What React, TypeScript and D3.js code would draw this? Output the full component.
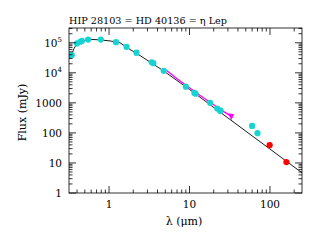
import React from "react";
import * as d3 from "d3";

// photometry (cyan)
const photLam = [0.344, 0.40, 0.44, 0.46, 0.55, 0.79, 1.22, 1.65, 2.19, 3.39, 3.55, 4.78, 9.0, 11.5, 11.9, 18, 22.1, 23.9, 24.3, 60, 70];
const photFlux = [38500, 95000, 108000, 115000, 128000, 128000, 105000, 73000, 47000, 22500, 21000, 11600, 3450, 2140, 2010, 1000, 650, 560, 540, 171, 98];
const photErr = [0, 0, 0, 0, 0, 0, 13000, 9000, 8000, 0, 0, 0, 0, 0, 0, 0, 0, 0, 0, 25, 0];

// far-IR photometry (red)
const redLam = [99, 160];
const redFlux = [39, 10.7];

// spectrum (magenta)
const specLam = [5.2, 7, 10, 14, 20, 27, 34];
const specFlux = [11900, 6300, 3200, 1650, 870, 500, 335];

// model (black)
const modelLam = [0.318, 0.347, 0.367, 0.40, 0.46, 0.58, 0.77, 1.03, 1.37, 1.82, 2.43, 3.23, 4.69, 10, 30, 100, 250];
const modelFlux = [31000, 44000, 64000, 95000, 115000, 130000, 125000, 115000, 100000, 60000, 37600, 22800, 11900, 2800, 315, 29, 4.7];

const xTicks = [1, 10, 100];
const yTicks = [1, 10, 100, 1000, 1e4, 1e5];

const W = 319, H = 242;
const L = 69, R = 302, T = 28, B = 193;

export default function App() {
  const x = d3.scaleLog().domain([0.318, 250]).range([L, R]);
  const y = d3.scaleLog().domain([1, 3.1e5]).range([B, T]);
  const line = d3.line<[number, number]>().x((d) => x(d[0])).y((d) => y(d[1]));

  const xMinor: number[] = [];
  for (const dec of [0.1, 1, 10, 100]) for (let k = 2; k <= 9; k++) {
    const v = dec * k;
    if (v > 0.318 && v < 250) xMinor.push(v);
  }
  const yMinor: number[] = [];
  for (const dec of [1, 10, 100, 1000, 1e4, 1e5]) for (let k = 2; k <= 9; k++) {
    const v = dec * k;
    if (v < 3.1e5) yMinor.push(v);
  }

  const font = "'DejaVu Serif', serif";
  const cyan = "#19d3d3";
  const sEnd = [x(specLam[specLam.length - 1]), y(specFlux[specFlux.length - 1])];

  const yLabel = (v: number) => {
    if (v >= 1e4) {
      const e = Math.round(Math.log10(v));
      return (
        <>
          10<tspan dy={-5} fontSize={7}>{e}</tspan>
        </>
      );
    }
    return String(v);
  };

  return (
    <div style={{ position: "absolute", left: 0, top: 0 }}>
      <svg width={W} height={H} style={{ display: "block", background: "#fff" }} fontFamily={font}>
        <text x={L} y={24} fontSize={10} textLength={158} lengthAdjust="spacingAndGlyphs">HIP 28103 = HD 40136 = η Lep</text>

        <defs>
          <clipPath id="plot">
            <rect x={L} y={T} width={R - L} height={B - T} />
          </clipPath>
        </defs>

        <g clipPath="url(#plot)">
          <path d={line(modelLam.map((l, i) => [l, modelFlux[i]]) as any) || ""} fill="none" stroke="#000" strokeWidth={0.9} />
          <path d={line(specLam.map((l, i) => [l, specFlux[i]]) as any) || ""} fill="none" stroke="#ff00ff" strokeWidth={1.3} />
          <path d={`M${sEnd[0] - 4},${sEnd[1] - 4} L${sEnd[0] + 2},${sEnd[1] - 3} L${sEnd[0] - 1},${sEnd[1] + 3} Z`} fill="#ff00ff" />
          {photLam.map((l, i) =>
            photErr[i] > 0 ? (
              <g key={`e${i}`} stroke={cyan} strokeWidth={1}>
                <line x1={x(l)} x2={x(l)} y1={y(photFlux[i] + photErr[i])} y2={y(photFlux[i] - photErr[i])} />
                <line x1={x(l) - 2.5} x2={x(l) + 2.5} y1={y(photFlux[i] + photErr[i])} y2={y(photFlux[i] + photErr[i])} />
                <line x1={x(l) - 2.5} x2={x(l) + 2.5} y1={y(photFlux[i] - photErr[i])} y2={y(photFlux[i] - photErr[i])} />
              </g>
            ) : null
          )}
          {photLam.map((l, i) => (
            <circle key={`p${i}`} cx={x(l)} cy={y(photFlux[i])} r={3.1} fill={cyan} />
          ))}
          {redLam.map((l, i) => (
            <circle key={`r${i}`} cx={x(l)} cy={y(redFlux[i])} r={3.1} fill="#ff0000" />
          ))}
        </g>

        <g stroke="#000" strokeWidth={0.8}>
          <rect x={L} y={T} width={R - L} height={B - T} fill="none" />
          {xTicks.map((v) => (
            <g key={`xt${v}`}>
              <line x1={x(v)} x2={x(v)} y1={B} y2={B - 7} />
              <line x1={x(v)} x2={x(v)} y1={T} y2={T + 7} />
            </g>
          ))}
          {xMinor.map((v) => (
            <g key={`xm${v}`}>
              <line x1={x(v)} x2={x(v)} y1={B} y2={B - 3.5} />
              <line x1={x(v)} x2={x(v)} y1={T} y2={T + 3.5} />
            </g>
          ))}
          {yTicks.map((v) => (
            <g key={`yt${v}`}>
              <line x1={L} x2={L + 7} y1={y(v)} y2={y(v)} />
              <line x1={R} x2={R - 7} y1={y(v)} y2={y(v)} />
            </g>
          ))}
          {yMinor.map((v) => (
            <g key={`ym${v}`}>
              <line x1={L} x2={L + 3.5} y1={y(v)} y2={y(v)} />
              <line x1={R} x2={R - 3.5} y1={y(v)} y2={y(v)} />
            </g>
          ))}
        </g>

        {xTicks.map((v) => (
          <text key={`xl${v}`} x={x(v)} y={208} fontSize={10.5} textAnchor="middle">{v}</text>
        ))}
        {yTicks.map((v) => (
          <text key={`yl${v}`} x={62} y={y(v) + 4} fontSize={10.5} textAnchor="end">{yLabel(v)}</text>
        ))}

        <text x={184} y={225} fontSize={11} textAnchor="middle">λ (μm)</text>
        <text transform={`translate(26,${(T + B) / 2 + 2}) rotate(-90)`} fontSize={11} textAnchor="middle">Flux (mJy)</text>
      </svg>
    </div>
  );
}
